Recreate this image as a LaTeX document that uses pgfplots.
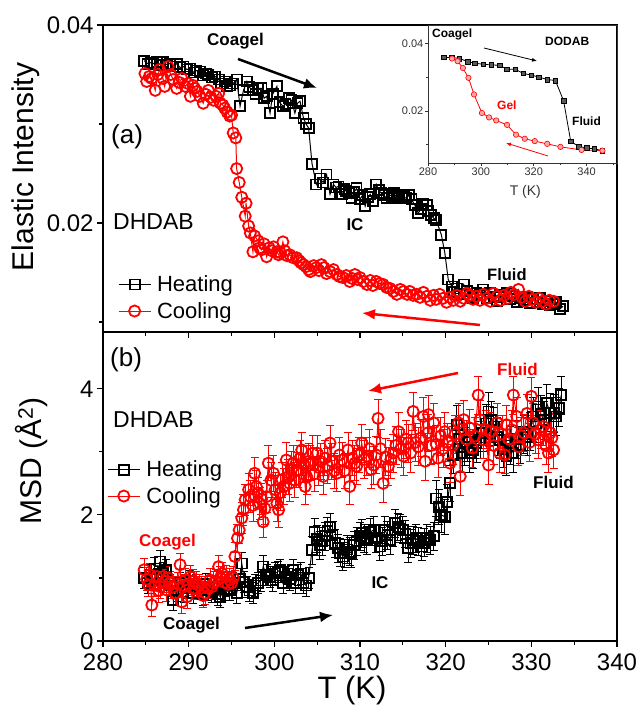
\documentclass[border=0pt]{standalone}
\usepackage{pgfplots}
\pgfplotsset{compat=1.18}
\usepackage{pgfplotstable}
\usetikzlibrary{arrows.meta}
\usepackage{fontspec}
\setmainfont{Liberation Sans}
\newcommand{\fs}[1]{\fontsize{#1}{#1}\selectfont}

% ---------- DHDAB elastic intensity, heating ----------
\pgfplotstableread{
T I
284.8 0.0364
285.2 0.0361
285.6 0.0362
285.9 0.0361
286.3 0.0363
286.7 0.0360
287.0 0.0363
287.4 0.0360
287.8 0.0361
288.2 0.0358
288.6 0.0361
289.0 0.0357
289.4 0.0358
289.8 0.0355
290.2 0.0356
290.6 0.0352
290.9 0.0354
291.3 0.0353
291.7 0.0349
292.0 0.0351
292.3 0.0350
292.7 0.0347
293.1 0.0348
293.5 0.0345
293.8 0.0341
294.2 0.0343
294.5 0.0338
294.8 0.0339
295.2 0.0341
295.6 0.0345
296.0 0.0318
296.4 0.0334
296.8 0.0343
297.1 0.0337
297.5 0.0334
297.8 0.0330
298.1 0.0336
298.5 0.0336
298.8 0.0326
299.1 0.0328
299.5 0.0311
299.8 0.0330
300.3 0.0338
300.6 0.0322
301.0 0.0318
301.3 0.0320
301.7 0.0326
302.0 0.0324
302.4 0.0311
302.7 0.0321
303.0 0.0323
303.4 0.0306
303.7 0.0300
304.0 0.0296
304.4 0.0260
304.9 0.0239
305.3 0.0245
305.7 0.0241
306.1 0.0249
306.5 0.0229
306.9 0.0239
307.2 0.0236
307.5 0.0237
307.9 0.0229
308.2 0.0234
308.4 0.0232
308.7 0.0230
309.0 0.0225
309.3 0.0231
309.6 0.0235
310.0 0.0224
310.3 0.0228
310.6 0.0217
310.9 0.0226
311.2 0.0229
311.5 0.0222
311.9 0.0239
312.2 0.0233
312.5 0.0230
312.8 0.0228
313.1 0.0225
313.4 0.0229
313.7 0.0227
314.0 0.0230
314.3 0.0225
314.6 0.0228
314.9 0.0227
315.2 0.0226
315.4 0.0225
315.7 0.0228
316.0 0.0224
316.4 0.0218
316.8 0.0210
317.1 0.0214
317.4 0.0219
317.8 0.0218
318.0 0.0212
318.3 0.0208
318.6 0.0205
318.9 0.0203
319.5 0.0188
319.9 0.0170
320.3 0.0143
320.7 0.0136
321.0 0.0130
321.3 0.0134
321.7 0.0128
322.1 0.0138
322.5 0.0131
322.9 0.0126
323.2 0.0124
323.6 0.0129
324.0 0.0127
324.4 0.0133
324.8 0.0124
325.2 0.0129
325.6 0.0125
326.0 0.0121
326.4 0.0125
326.8 0.0127
327.1 0.0129
327.5 0.0123
327.9 0.0126
328.3 0.0120
328.7 0.0124
329.1 0.0122
329.5 0.0125
329.8 0.0119
330.2 0.0123
330.6 0.0120
331.0 0.0124
331.4 0.0118
331.8 0.0121
332.2 0.0117
332.6 0.0118
332.9 0.0120
333.3 0.0113
333.7 0.0116
}\topH

% ---------- DHDAB elastic intensity, cooling ----------
\pgfplotstableread{
T I
284.9 0.0351
285.1 0.0343
285.4 0.0348
285.7 0.0346
286.1 0.0334
286.4 0.0350
286.6 0.0355
287.0 0.0346
287.2 0.0338
287.6 0.0358
287.9 0.0350
288.2 0.0345
288.6 0.0336
288.9 0.0342
289.2 0.0346
289.6 0.0338
289.9 0.0341
290.2 0.0328
290.5 0.0339
290.7 0.0336
291.0 0.0333
291.3 0.0328
291.7 0.0321
292.0 0.0330
292.3 0.0334
292.6 0.0327
292.9 0.0324
293.2 0.0328
293.5 0.0331
293.7 0.0321
294.0 0.0319
294.2 0.0316
294.5 0.0312
294.8 0.0308
295.0 0.0309
295.2 0.0291
295.5 0.0286
295.6 0.0255
295.9 0.0241
296.2 0.0226
296.6 0.0207
296.7 0.0220
297.0 0.0197
297.2 0.0190
297.5 0.0171
297.7 0.0187
298.1 0.0182
298.3 0.0175
298.5 0.0173
298.8 0.0179
299.1 0.0166
299.4 0.0175
299.7 0.0172
299.9 0.0176
300.3 0.0171
300.5 0.0168
300.7 0.0170
301.0 0.0181
301.2 0.0172
301.5 0.0167
301.8 0.0168
302.2 0.0165
302.6 0.0165
302.9 0.0162
303.1 0.0160
303.4 0.0158
303.7 0.0156
304.0 0.0153
304.2 0.0151
304.6 0.0157
304.9 0.0155
305.2 0.0152
305.5 0.0158
305.8 0.0155
306.1 0.0149
306.5 0.0151
306.9 0.0153
307.3 0.0148
307.6 0.0146
308.0 0.0145
308.4 0.0147
308.8 0.0141
309.1 0.0144
309.4 0.0148
309.7 0.0143
310.0 0.0145
310.4 0.0141
310.8 0.0138
311.2 0.0142
311.5 0.0137
311.9 0.0141
312.3 0.0139
312.7 0.0138
313.1 0.0135
313.5 0.0134
313.9 0.0131
314.3 0.0128
314.7 0.0133
315.1 0.0131
315.5 0.0128
315.8 0.0131
316.2 0.0127
316.6 0.0128
317.0 0.0125
317.4 0.0130
317.8 0.0126
318.2 0.0122
318.6 0.0127
318.9 0.0123
319.3 0.0128
319.7 0.0124
320.1 0.0120
320.5 0.0125
320.9 0.0122
321.3 0.0127
321.7 0.0121
322.1 0.0124
322.5 0.0129
322.8 0.0127
323.2 0.0123
323.6 0.0126
324.0 0.0122
324.4 0.0128
324.8 0.0124
325.2 0.0121
325.6 0.0129
326.0 0.0126
326.4 0.0122
326.8 0.0127
327.2 0.0124
327.6 0.0130
328.0 0.0128
328.5 0.0133
328.9 0.0125
329.3 0.0121
329.7 0.0126
330.1 0.0123
330.5 0.0120
330.9 0.0124
331.3 0.0121
331.7 0.0118
332.1 0.0122
332.6 0.0121
}\topC

% ---------- DHDAB mean square displacement, heating ----------
\pgfplotstableread{
T M E
284.8 1.00 0.17
285.2 0.92 0.17
285.6 1.05 0.17
286.0 1.15 0.17
286.3 0.98 0.17
286.7 1.26 0.17
287.0 1.08 0.17
287.4 1.13 0.17
287.8 0.88 0.17
288.2 0.65 0.17
288.6 0.80 0.17
289.0 0.92 0.17
289.4 0.78 0.17
289.8 0.84 0.17
290.1 0.95 0.17
290.5 0.76 0.17
290.9 0.88 0.17
291.3 0.86 0.17
291.7 0.74 0.17
292.0 0.90 0.17
292.3 0.81 0.17
292.7 0.78 0.17
293.0 0.85 0.17
293.4 0.74 0.17
293.7 0.70 0.17
294.1 0.82 0.17
294.4 0.88 0.17
294.8 0.81 0.17
295.2 0.92 0.17
295.6 0.76 0.17
296.0 0.98 0.17
296.2 1.23 0.17
296.5 0.94 0.17
296.8 0.86 0.17
297.1 0.80 0.17
297.5 0.76 0.17
297.8 0.88 0.17
298.1 0.92 0.17
298.4 0.96 0.17
298.7 1.18 0.17
299.1 1.05 0.17
299.5 1.02 0.17
299.8 0.96 0.17
300.1 1.07 0.17
300.4 1.10 0.17
300.7 1.13 0.17
301.0 0.92 0.17
301.4 1.02 0.17
301.8 0.98 0.17
302.2 1.13 0.17
302.5 0.92 0.17
302.8 1.05 0.17
303.1 1.07 0.17
303.4 0.92 0.17
303.7 0.88 0.17
304.0 1.00 0.17
304.4 1.44 0.22
304.7 1.73 0.22
305.0 1.62 0.22
305.3 1.52 0.22
305.6 1.58 0.22
305.9 1.66 0.22
306.2 1.74 0.22
306.5 1.81 0.22
306.8 1.68 0.22
307.1 1.55 0.22
307.4 1.47 0.22
307.7 1.40 0.22
308.0 1.34 0.22
308.2 1.39 0.22
308.5 1.45 0.22
308.8 1.42 0.22
309.0 1.39 0.22
309.3 1.52 0.22
309.6 1.58 0.22
310.0 1.66 0.22
310.2 1.71 0.22
310.5 1.63 0.22
310.8 1.60 0.22
311.2 1.73 0.22
311.6 1.76 0.22
311.9 1.63 0.22
312.3 1.50 0.22
312.6 1.58 0.22
312.9 1.76 0.22
313.2 1.68 0.22
313.5 1.60 0.22
313.8 1.72 0.22
314.1 1.87 0.22
314.4 1.81 0.22
314.7 1.78 0.22
315.0 1.76 0.22
315.3 1.70 0.22
315.6 1.47 0.22
315.9 1.55 0.22
316.2 1.60 0.22
316.5 1.63 0.22
316.8 1.58 0.22
317.2 1.50 0.22
317.5 1.56 0.22
317.8 1.63 0.22
318.2 1.60 0.22
318.6 1.66 0.22
318.9 2.26 0.28
319.2 2.13 0.28
319.5 2.00 0.28
319.9 1.97 0.28
320.2 2.20 0.28
320.5 2.50 0.28
320.9 2.95 0.30
321.3 3.43 0.30
321.6 3.20 0.30
321.9 2.98 0.30
322.2 3.08 0.30
322.5 3.15 0.30
322.8 2.98 0.30
323.2 3.03 0.30
323.6 3.14 0.30
324.0 3.19 0.30
324.4 3.30 0.30
324.7 3.45 0.30
325.0 3.64 0.30
325.3 3.50 0.30
325.6 3.40 0.30
326.0 3.24 0.30
326.3 3.19 0.30
326.7 3.05 0.30
327.1 2.93 0.30
327.5 3.10 0.30
327.9 2.98 0.30
328.3 3.20 0.30
328.7 3.11 0.30
329.1 3.28 0.30
329.5 3.24 0.30
329.9 3.32 0.30
330.2 3.56 0.30
330.5 3.45 0.30
330.8 3.72 0.30
331.1 3.60 0.30
331.5 3.50 0.30
331.8 3.77 0.30
332.2 3.62 0.30
332.6 3.61 0.30
332.9 3.56 0.30
333.2 3.70 0.30
333.5 3.90 0.30
}\botH

% ---------- DHDAB mean square displacement, cooling ----------
\pgfplotstableread{
T M E
284.8 1.13 0.18
285.1 0.98 0.18
285.3 0.89 0.18
285.5 1.05 0.18
285.7 0.57 0.18
286.0 0.88 0.18
286.3 1.02 0.18
286.5 0.80 0.18
286.7 0.86 0.18
287.0 1.02 0.18
287.2 0.95 0.18
287.4 0.81 0.18
287.6 1.00 0.18
287.8 0.92 0.18
288.1 0.85 0.18
288.4 0.76 0.18
288.7 0.90 0.18
289.0 1.21 0.18
289.2 0.62 0.18
289.4 0.88 0.18
289.6 0.97 0.18
289.8 0.70 0.18
290.0 0.90 0.18
290.2 1.02 0.18
290.5 0.95 0.18
290.7 0.84 0.18
290.9 0.92 0.18
291.2 0.88 0.18
291.5 0.84 0.18
291.7 0.72 0.18
291.9 0.76 0.18
292.2 0.85 0.18
292.5 0.97 0.18
292.7 0.86 0.18
292.9 0.92 0.18
293.2 0.95 0.18
293.5 1.18 0.18
293.7 1.00 0.18
293.9 1.07 0.18
294.2 0.93 0.18
294.4 1.02 0.18
294.6 0.90 0.18
294.8 0.97 0.18
295.0 0.92 0.18
295.2 1.00 0.18
295.4 1.34 0.22
295.7 1.63 0.22
295.9 1.76 0.22
296.2 1.95 0.25
296.4 2.08 0.25
296.6 2.24 0.25
297.0 2.40 0.25
297.2 2.29 0.25
297.5 2.15 0.25
297.7 2.66 0.25
297.9 2.45 0.25
298.1 2.35 0.25
298.3 2.18 0.25
298.5 2.25 0.25
298.7 1.89 0.25
298.9 2.10 0.25
299.1 2.29 0.25
299.3 2.82 0.28
299.6 2.55 0.28
299.9 2.66 0.28
300.1 2.40 0.28
300.3 2.18 0.28
300.5 2.08 0.28
300.7 2.35 0.28
300.9 2.56 0.28
301.1 2.45 0.28
301.4 2.87 0.28
301.6 2.60 0.28
301.8 2.50 0.28
302.0 2.72 0.28
302.2 2.82 0.28
302.4 2.55 0.28
302.6 2.71 0.28
302.8 2.71 0.28
303.0 2.90 0.28
303.2 3.03 0.28
303.4 2.80 0.28
303.6 2.45 0.28
303.8 2.60 0.28
304.0 2.85 0.28
304.2 2.82 0.28
304.5 2.98 0.28
304.7 2.65 0.28
305.0 2.98 0.28
305.2 2.75 0.28
305.4 2.85 0.28
305.7 2.61 0.28
305.9 2.90 0.28
306.2 2.78 0.28
306.5 3.14 0.28
306.7 2.85 0.28
307.0 2.70 0.28
307.3 2.66 0.28
307.6 2.95 0.28
307.9 2.87 0.28
308.2 2.70 0.28
308.6 3.03 0.28
308.8 2.45 0.28
309.1 2.90 0.28
309.4 2.82 0.28
309.6 2.77 0.28
309.9 2.95 0.28
310.2 3.14 0.30
310.5 2.88 0.30
310.8 2.93 0.30
311.1 3.05 0.30
311.3 2.72 0.30
311.6 2.79 0.30
311.9 2.95 0.30
312.1 3.53 0.30
312.4 3.05 0.30
312.7 2.50 0.30
313.0 2.92 0.30
313.3 2.77 0.30
313.6 2.88 0.30
313.9 2.98 0.30
314.2 3.10 0.30
314.5 3.32 0.30
314.8 3.05 0.30
315.1 2.93 0.30
315.4 3.20 0.30
315.6 3.14 0.30
315.9 2.98 0.30
316.2 3.64 0.30
316.5 3.15 0.30
316.8 3.08 0.30
317.1 3.22 0.30
317.4 3.56 0.30
317.6 2.85 0.30
317.9 3.30 0.30
318.0 3.59 0.30
318.3 3.10 0.30
318.6 3.46 0.30
318.9 3.12 0.30
319.1 2.90 0.30
319.4 3.25 0.30
319.7 3.05 0.30
319.9 3.32 0.30
320.2 3.15 0.30
320.5 2.82 0.30
320.8 3.10 0.30
321.1 3.28 0.30
321.5 3.46 0.30
321.7 2.61 0.30
322.1 3.51 0.30
322.4 3.20 0.30
322.8 3.38 0.30
323.1 3.06 0.30
323.4 3.25 0.30
323.8 3.90 0.30
324.0 3.51 0.30
324.4 3.19 0.30
324.7 3.35 0.30
325.0 2.79 0.30
325.2 3.32 0.30
325.6 3.10 0.30
326.0 3.46 0.30
326.3 2.98 0.30
326.6 3.28 0.30
326.9 2.95 0.30
327.1 3.43 0.30
327.4 3.20 0.30
327.7 3.35 0.30
327.9 3.90 0.30
328.3 3.56 0.30
328.5 3.08 0.30
328.8 3.25 0.30
329.1 3.30 0.30
329.5 3.61 0.30
329.8 3.15 0.30
330.0 3.88 0.30
330.2 3.46 0.30
330.5 3.28 0.30
330.8 3.19 0.30
331.1 3.35 0.30
331.4 3.40 0.30
331.7 3.10 0.30
332.0 2.98 0.30
332.2 3.30 0.30
332.4 3.22 0.30
332.6 3.03 0.30
}\botC

% ---------- DODAB elastic intensity (inset) ----------
\pgfplotstableread{
T I
286.0 0.0358
289.1 0.0358
291.9 0.0355
295.0 0.0346
297.8 0.0341
300.9 0.0338
304.0 0.0336
307.1 0.0335
309.9 0.0323
313.0 0.0323
316.0 0.0311
319.1 0.0306
322.0 0.0300
325.1 0.0293
328.2 0.0290
331.3 0.0230
334.0 0.0110
337.1 0.0095
340.0 0.0091
342.9 0.0088
346.0 0.0083
}\insH

\pgfplotstableread{
T I
289.1 0.0355
291.2 0.0347
293.2 0.0327
295.3 0.0298
297.4 0.0249
300.4 0.0194
303.1 0.0181
305.8 0.0172
309.9 0.0159
313.3 0.0130
316.6 0.0118
320.4 0.0111
325.1 0.0103
330.1 0.0094
338.1 0.0085
346.0 0.0083
}\insC

\pgfplotsset{
  panel/.style={
    scale only axis, width=514pt,
    xmin=280, xmax=340,
    xtick={280,290,...,340}, minor xtick={285,295,...,335},
    scaled y ticks=false,
    tick align=outside, xtick pos=bottom, ytick pos=left,
    major tick length=6pt, minor tick length=4pt,
    tick style={black, line width=1.2pt},
    axis line style={line width=1.3pt},
    ticklabel style={font=\fs{24}},
    xticklabel style={yshift=-3pt},
    legend cell align=left,
    legend style={draw=none, fill=none, font=\fs{22},
      inner sep=0pt, row sep=5pt,
      /tikz/every even column/.append style={column sep=3pt}},
    legend image code/.code={%
      \draw[mark repeat=2, mark phase=2] plot coordinates {(0pt,0pt) (16pt,0pt) (32pt,0pt)};
      \path (36pt,0pt);},
  },
  heat/.style={black, line width=1pt, mark=square, mark size=5pt,
    mark options={line width=1.8pt, solid}},
  cool/.style={red, line width=1pt, mark=o, mark size=5.6pt,
    mark options={line width=1.8pt, solid}},
  bars/.style={error bars/.cd, y dir=both, y explicit,
    error bar style={line width=0.8pt},
    error mark options={rotate=90, mark size=4pt, line width=0.8pt}},
}

\begin{document}
\begin{tikzpicture}
\useasboundingbox (0pt,0pt) rectangle (638pt,712pt);

% (a) elastic intensity
\begin{axis}[panel, at={(103pt,380pt)}, anchor=south west, height=307pt,
  ymin=0.0090, ymax=0.04,
  xticklabels={},
  ytick={0.02,0.04}, yticklabels={0.02,0.04}, minor ytick={0.01,0.03},
  legend style={at={(axis description cs:0.029,0.19)}, anchor=north west}]
\addplot[heat] table[x=T, y=I] {\topH};
\addlegendentry{Heating}
\addplot[cool] table[x=T, y=I] {\topC};
\addlegendentry{Cooling}
\end{axis}

% (b) mean square displacement
\begin{axis}[panel, at={(103pt,71pt)}, anchor=south west, height=309pt,
  ymin=0, ymax=4.9,
  xticklabels={280,290,300,310,320,330,340},
  ytick={0,2,4}, yticklabels={0,2,4}, minor ytick={1,3},
  legend style={at={(axis description cs:0.008,0.59)}, anchor=north west}]
\addplot[heat, bars] table[x=T, y=M, y error=E] {\botH};
\addlegendentry{Heating}
\addplot[cool, bars] table[x=T, y=M, y error=E] {\botC};
\addlegendentry{Cooling}
\end{axis}

% inset: DODAB
\begin{axis}[at={(428pt,549pt)}, anchor=south west, scale only axis,
  width=189pt, height=138pt,
  xmin=280, xmax=351.5, ymin=0.00464, ymax=0.0454,
  scaled y ticks=false,
  xtick={280,300,320,340}, xticklabels={280,300,320,340},
  minor xtick={290,310,330,350},
  ytick={0.02,0.04}, yticklabels={0.02,0.04}, minor ytick={0.01,0.03},
  tick align=outside, xtick pos=bottom, ytick pos=left,
  major tick length=3pt, minor tick length=2pt,
  tick style={black!80, line width=0.7pt},
  axis line style={black!80, line width=0.8pt},
  ticklabel style={font=\fs{11}, black!80, inner sep=1.5pt},
  xlabel={T (K)}, xlabel style={font=\fs{14}, black!80, at={(axis description cs:0.515,-0.21)}, anchor=center}]
\addplot[black, line width=0.8pt, mark=square*, mark size=2.3pt,
  mark options={fill=black!65, draw=black, line width=0.6pt}] table[x=T, y=I] {\insH};
\addplot[red, line width=0.8pt, mark=*, mark size=2.7pt,
  mark options={fill=red!35, draw=red, line width=0.6pt}] table[x=T, y=I] {\insC};
\end{axis}

% inset annotations
\node[anchor=west, inner sep=0pt, font=\fs{12}\bfseries] at (432pt,678pt) {Coagel};
\node[anchor=west, inner sep=0pt, font=\fs{12}\bfseries] at (545pt,671pt) {DODAB};
\node[anchor=west, inner sep=0pt, font=\fs{12}\bfseries, red] at (497pt,607pt) {Gel};
\node[anchor=west, inner sep=0pt, font=\fs{12}\bfseries] at (572pt,591pt) {Fluid};
\draw[black, line width=0.8pt, -{Latex[length=5pt,width=4pt]}] (484pt,664pt) -- (537pt,651pt);
\draw[red, line width=0.8pt, -{Latex[length=5pt,width=4pt]}] (548pt,556pt) -- (506pt,569pt);

% panel (a) annotations
\node[anchor=west, inner sep=0pt, font=\fs{26}] at (111pt,575pt) {(a)};
\node[anchor=west, inner sep=0pt, font=\fs{23}] at (113pt,490pt) {DHDAB};
\node[anchor=west, inner sep=0pt, font=\fs{17}\bfseries] at (207pt,671pt) {Coagel};
\draw[black, line width=2.5pt, -{Latex[length=13pt,width=11pt]}] (238pt,653pt) -- (317pt,624pt);
\node[inner sep=0pt, font=\fs{17}\bfseries] at (355pt,487pt) {IC};
\node[anchor=west, inner sep=0pt, font=\fs{16.5}\bfseries] at (487pt,437pt) {Fluid};
\draw[red, line width=2.5pt, -{Latex[length=13pt,width=11pt]}] (480pt,387pt) -- (362pt,399pt);

% panel (b) annotations
\node[anchor=west, inner sep=0pt, font=\fs{26}] at (110pt,352pt) {(b)};
\node[anchor=west, inner sep=0pt, font=\fs{23}] at (113pt,292pt) {DHDAB};
\node[anchor=west, inner sep=0pt, font=\fs{17}\bfseries, red] at (139pt,170pt) {Coagel};
\node[anchor=west, inner sep=0pt, font=\fs{17}\bfseries] at (163pt,87pt) {Coagel};
\draw[black, line width=2.5pt, -{Latex[length=13pt,width=11pt]}] (245pt,84pt) -- (333pt,97pt);
\node[inner sep=0pt, font=\fs{17}\bfseries] at (380pt,129pt) {IC};
\node[anchor=west, inner sep=0pt, font=\fs{17}\bfseries] at (533pt,230pt) {Fluid};
\node[anchor=west, inner sep=0pt, font=\fs{17}\bfseries, red] at (497pt,343pt) {Fluid};
\draw[red, line width=2.5pt, -{Latex[length=13pt,width=11pt]}] (458pt,339pt) -- (368pt,321pt);

% axis titles
\node[rotate=90, font=\fs{30}] at (26pt,545pt) {Elastic Intensity};
\node[rotate=90, font=\fs{30}] at (32pt,251pt) {MSD (Å\textsuperscript{2})};
\node[font=\fs{31}] at (352pt,22pt) {T (K)};
\end{tikzpicture}
\end{document}
